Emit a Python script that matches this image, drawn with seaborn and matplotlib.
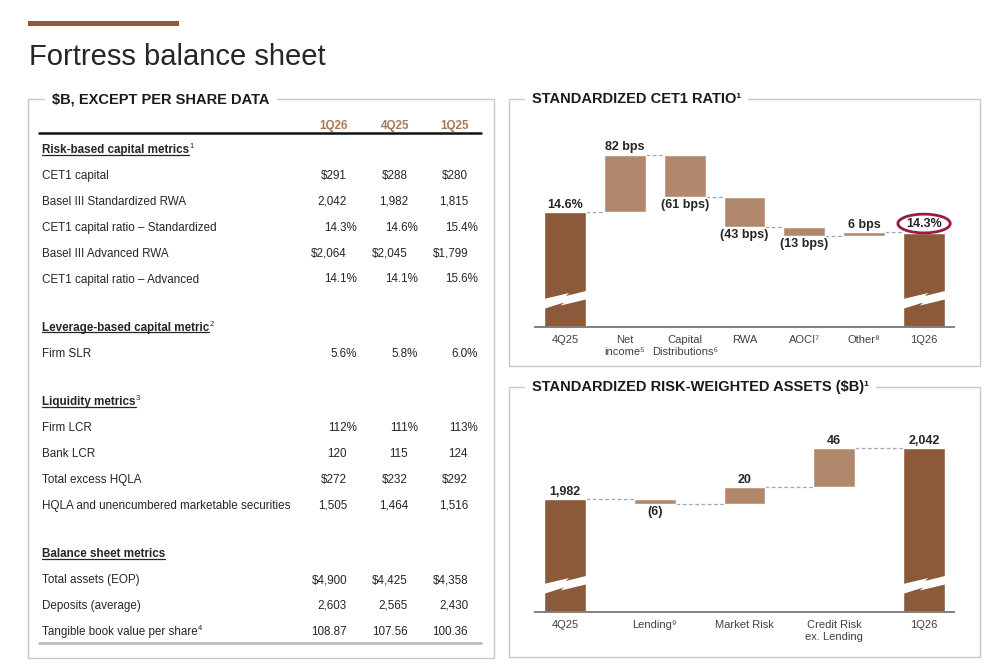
import numpy as np
import pandas as pd
import matplotlib
matplotlib.use("Agg")
import matplotlib.pyplot as plt
import matplotlib.transforms as mtransforms
from matplotlib.patches import Rectangle, Polygon
import seaborn as sns

# table data
quarters = ["1Q26", "4Q25", "1Q25"]
section_titles = ["Risk-based capital metrics", "Leverage-based capital metric",
                  "Liquidity metrics", "Balance sheet metrics"]
section_notes = ["1", "2", "3", ""]
row_labels = [
    ["CET1 capital", "Basel III Standardized RWA", "CET1 capital ratio \u2013 Standardized",
     "Basel III Advanced RWA", "CET1 capital ratio \u2013 Advanced"],
    ["Firm SLR"],
    ["Firm LCR", "Bank LCR", "Total excess HQLA", "HQLA and unencumbered marketable securities"],
    ["Total assets (EOP)", "Deposits (average)", "Tangible book value per share"],
]
row_notes = [["", "", "", "", ""], [""], ["", "", "", ""], ["", "", "4"]]
row_values = [
    [["$291", "$288", "$280"], ["2,042", "1,982", "1,815"], ["14.3%", "14.6%", "15.4%"],
     ["$2,064", "$2,045", "$1,799"], ["14.1%", "14.1%", "15.6%"]],
    [["5.6%", "5.8%", "6.0%"]],
    [["112%", "111%", "113%"], ["120", "115", "124"], ["$272", "$232", "$292"],
     ["1,505", "1,464", "1,516"]],
    [["$4,900", "$4,425", "$4,358"], ["2,603", "2,565", "2,430"], ["108.87", "107.56", "100.36"]],
]

# CET1 waterfall data
cet1_steps = ["4Q25", "Net income", "Capital Distributions", "RWA", "AOCI", "Other", "1Q26"]
cet1_ticks = ["4Q25", "Net\nincome\u2075", "Capital\nDistributions\u2076", "RWA",
              "AOCI\u2077", "Other\u2078", "1Q26"]
cet1_start = 14.6
cet1_end = 14.3
cet1_deltas_bps = [82, -61, -43, -13, 6]

# RWA waterfall data
rwa_steps = ["4Q25", "Lending", "Market Risk", "Credit Risk ex. Lending", "1Q26"]
rwa_ticks = ["4Q25", "Lending\u2079", "Market Risk", "Credit Risk\nex. Lending", "1Q26"]
rwa_start = 1982
rwa_end = 2042
rwa_deltas = [-6, 20, 46]

DARK = "#8b5a3a"
LIGHT = "#b2886d"
TXT = "#262626"
GRID = "#c8c8c8"
TFS = 8.4  # table font size

sns.set_theme(style="white")
plt.rcParams["font.family"] = ["Liberation Sans", "DejaVu Sans"]
plt.rcParams["text.parse_math"] = False

W, H = 1001, 667
fig = plt.figure(figsize=(W / 100, H / 100), dpi=100)
bg = fig.add_axes([0, 0, 1, 1])
bg.set_xlim(0, W)
bg.set_ylim(H, 0)
bg.axis("off")

# title and decoration
bg.add_patch(Rectangle((28, 21), 151, 5, color=DARK, lw=0))
bg.text(29, 65, "Fortress balance sheet", fontsize=21, color=TXT, va="baseline")

# panels
for (x, y, w, h) in [(28, 99, 466, 559), (509, 99, 471, 267), (509, 387, 471, 270)]:
    bg.add_patch(Rectangle((x, y), w, h, fill=False, ec=GRID, lw=1))
hdr_box = dict(boxstyle="square,pad=0.5", fc="white", ec="none")
bg.text(52, 99, "$B, EXCEPT PER SHARE DATA", fontsize=10.5, weight="bold",
        color="#1a1a1a", va="center", bbox=hdr_box)
bg.text(532, 99, "STANDARDIZED CET1 RATIO\u00b9", fontsize=10.5, weight="bold",
        color="#1a1a1a", va="center", bbox=hdr_box)
bg.text(532, 387, "STANDARDIZED RISK-WEIGHTED ASSETS ($B)\u00b9", fontsize=10.5,
        weight="bold", color="#1a1a1a", va="center", bbox=hdr_box)

# table
renderer = fig.canvas.get_renderer()
col_right = [347, 408, 468]
for q, xr in zip(quarters, col_right):
    bg.text(xr + 1, 129, q, fontsize=TFS, weight="bold", color="#a87a55",
            ha="right", va="baseline")
bg.plot([39, 481], [132.5, 132.5], color="#111111", lw=1.8)


def label_with_note(x, y, text, note, bold=False, underline=False):
    t = bg.text(x, y, text, fontsize=TFS, color=TXT, va="baseline",
                weight="bold" if bold else "normal")
    bb = t.get_window_extent(renderer)
    x1 = bb.x1
    if underline:
        bg.plot([x, x1], [y + 1.5, y + 1.5], color=TXT, lw=0.9)
    if note:
        bg.text(x1 + 0.5, y - 5, note, fontsize=5.5, color=TXT, va="baseline")


y = 153
for s, title in enumerate(section_titles):
    label_with_note(42, y, title, section_notes[s], bold=True, underline=True)
    y += 25.9
    for r, lab in enumerate(row_labels[s]):
        label_with_note(42, y, lab, row_notes[s][r])
        for c, val in enumerate(row_values[s][r]):
            shift = 10 if val.endswith("%") else 0
            bg.text(col_right[c] + shift, y, val, fontsize=TFS, color=TXT,
                    ha="right", va="baseline")
        y += 25.9
    y += 22.5
bg.plot([39, 481], [643, 643], color="#b5b5b5", lw=1.8)


def waterfall(rect, steps, ticks, start, end, deltas, ylim, width, pad_x,
              fmt_total, fmt_delta, circle_end=False):
    ax = fig.add_axes([rect[0] / W, 1 - rect[3] / H, (rect[2] - rect[0]) / W,
                       (rect[3] - rect[1]) / H])
    ax.set_facecolor("none")
    n = len(steps)
    totals = pd.DataFrame({"step": [steps[0], steps[-1]], "value": [start, end]})
    sns.barplot(data=totals, x="step", y="value", order=steps, color=DARK,
                saturation=1, width=width, errorbar=None, ax=ax, zorder=2)
    levels = np.concatenate([[start], start + np.cumsum(deltas)])
    bottoms = np.minimum(levels[:-1], levels[1:])
    heights = np.abs(np.diff(levels))
    pos = np.arange(1, n - 1)
    ax.bar(pos, heights, bottom=bottoms, width=width, color=LIGHT, zorder=2)

    ax.set_xlim(-pad_x, n - 1 + pad_x)
    ax.set_ylim(*ylim)

    # connectors
    for i in range(n - 1):
        ax.plot([i + width / 2, i + 1 - width / 2], [levels[i], levels[i]],
                color="#a6a6a6", lw=0.9, ls=(0, (3, 2)), zorder=1)

    # labels
    lab_kw = dict(fontsize=9, weight="bold", color=TXT, ha="center",
                  textcoords="offset points")
    ax.annotate(fmt_total(start), (0, start), xytext=(0, 1), va="bottom", **lab_kw)
    end_kw = dict(lab_kw)
    if circle_end:
        end_kw["bbox"] = dict(boxstyle="ellipse,pad=0.05", fc="none", ec="#9b1b3f", lw=2)
    ax.annotate(fmt_total(end), (n - 1, end), xytext=(0, 2.5 if circle_end else 1),
                va="bottom", **end_kw)
    for i, d in enumerate(deltas):
        if d >= 0:
            ax.annotate(fmt_delta(d), (i + 1, levels[i + 1]), xytext=(0, 1),
                        va="bottom", **lab_kw)
        else:
            ax.annotate(fmt_delta(d), (i + 1, levels[i + 1]), xytext=(0, -1),
                        va="top", **lab_kw)

    # axis break marks on total bars
    ax_h = rect[3] - rect[1]
    trans = mtransforms.blended_transform_factory(ax.transData, ax.transAxes)
    zig = [(-0.05, 27.5), (0.6, 34), (0.52, 31), (1.05, 36.5),
           (1.05, 28), (0.4, 21.5), (0.48, 24.5), (-0.05, 17.5)]
    for i in [0, n - 1]:
        x0 = i - width / 2
        pts = [(x0 + u * width, hpx / ax_h) for u, hpx in zig]
        ax.add_patch(Polygon(pts, closed=True, fc="white", ec="none",
                             transform=trans, zorder=3))

    ax.set_xticks(range(n))
    ax.set_xticklabels(ticks, fontsize=8, color="#404040", linespacing=1.25)
    ax.tick_params(axis="x", length=0, pad=6)
    ax.set_yticks([])
    ax.set_xlabel("")
    ax.set_ylabel("")
    sns.despine(ax=ax, left=True)
    ax.spines["bottom"].set_color("#808080")
    ax.spines["bottom"].set_linewidth(1.4)
    return ax


# CET1: 0.7 px per bp, baseline 327 px, 14.6% at 212 px
waterfall((535, 135, 954, 327), cet1_steps, cet1_ticks, cet1_start, cet1_end,
          [d / 100 for d in cet1_deltas_bps], (12.957, 15.70), 0.7, 0.5,
          lambda v: f"{v:.1f}%",
          lambda d: f"{round(d * 100)} bps" if d >= 0 else f"({round(-d * 100)} bps)",
          circle_end=True)

# RWA: 0.85 px per $B, baseline 612 px
waterfall((535, 420, 954, 612), rwa_steps, rwa_ticks, rwa_start, rwa_end,
          rwa_deltas, (1849.1, 2075), 42 / 90, 1 / 3,
          lambda v: f"{v:,}",
          lambda d: f"{d}" if d >= 0 else f"({-d})")

fig.savefig("out.png", dpi=100)
